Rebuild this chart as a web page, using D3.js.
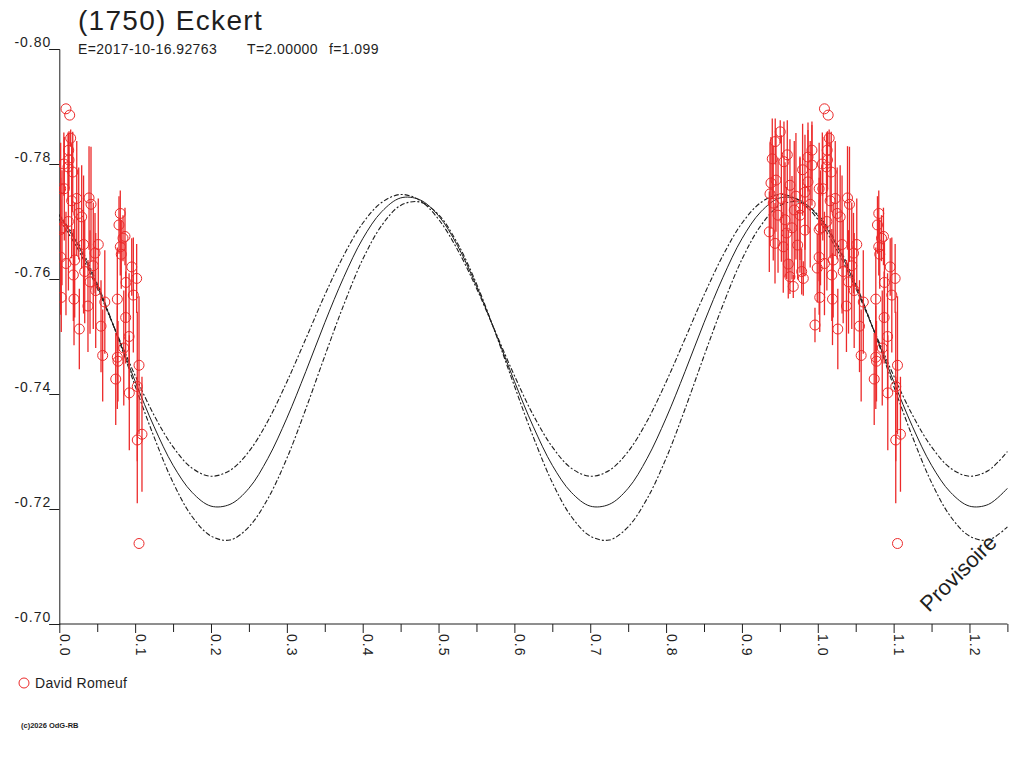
<!DOCTYPE html>
<html><head><meta charset="utf-8">
<script src="https://cdn.jsdelivr.net/npm/d3@7"></script>
<style>
html,body{margin:0;padding:0;background:#fff;}
svg{display:block;font-family:"Liberation Sans",Arial,sans-serif;}
</style></head>
<body>
<script>
// ---- data ----
const title = "(1750) Eckert";
const subtitleParts = ["E=2017-10-16.92763", "T=2.00000", "f=1.099"];
const observer = "David Romeuf";
const copyright = "(c)2026 OdG-RB";
const watermark = "Provisoire";

const yTicks = [-0.80, -0.78, -0.76, -0.74, -0.72, -0.70];
const xMajorTicks = [0.0,0.1,0.2,0.3,0.4,0.5,0.6,0.7,0.8,0.9,1.0,1.1,1.2];
const xMinorTicks = [0.05,0.15,0.25,0.35,0.45,0.55,0.65,0.75,0.85,0.95,1.05,1.15,1.25];

// observations: phase, magnitude, error
const obsPhase = [0.0088,0.0137,0.0150,0.0124,0.0128,0.0115,0.0177,0.0018,0.0066,0.0163,
 0.0018,0.0036,0.0392,0.0418,0.0256,0.0295,0.0514,0.0471,0.0804,0.0787,
 0.0866,0.0840,0.0804,0.0817,0.0955,0.1020,0.0879,0.0018,0.0088,0.0203,
 0.0185,0.0335,0.0448,0.0405,0.0026,0.0194,0.0264,0.0550,0.0572,0.0765,
 0.0976,0.0875,0.0765,0.0774,0.0744,0.0923,0.1051,0.1028,0.1090,0.1028,
 0.1051,0.0378,0.0060,0.0230,0.0320,0.0120,0.0480,0.0600,0.0850,0.0920,
 0.9505,0.9439,0.9598,0.9554,0.9400,0.9383,0.9370,0.9413,0.9361,0.9436,
 0.9545,0.9611,0.9633,0.9677,0.9788,0.9809,0.9735,0.9871,0.9993,0.9871,
 0.9923,0.9923,0.9765,0.9765,0.9660,0.9568,0.9476,0.9712,0.9831,0.9963,
 0.9449,0.9831,0.9633,0.9520,0.9690,0.9900,0.9590,0.9800];
const obsMag = [-0.7896,-0.7885,-0.7845,-0.7824,-0.7807,-0.7795,-0.7786,-0.7757,-0.7757,-0.7736,
 -0.7686,-0.7689,-0.7741,-0.7730,-0.7714,-0.7708,-0.7660,-0.7645,-0.7714,-0.7694,
 -0.7674,-0.7671,-0.7656,-0.7643,-0.7621,-0.7601,-0.7594,-0.7638,-0.7627,-0.7633,
 -0.7607,-0.7613,-0.7623,-0.7595,-0.7568,-0.7565,-0.7513,-0.7518,-0.7467,-0.7565,
 -0.7572,-0.7533,-0.7464,-0.7457,-0.7426,-0.7402,-0.7450,-0.7413,-0.7330,-0.7320,
 -0.7140,-0.7553,-0.7800,-0.7740,-0.7660,-0.7700,-0.7580,-0.7560,-0.7480,-0.7500,
 -0.7856,-0.7839,-0.7816,-0.7804,-0.7809,-0.7767,-0.7748,-0.7732,-0.7682,-0.7662,
 -0.7656,-0.7626,-0.7604,-0.7587,-0.7613,-0.7601,-0.7659,-0.7769,-0.7619,-0.7812,
 -0.7824,-0.7798,-0.7723,-0.7711,-0.7689,-0.7703,-0.7711,-0.7744,-0.7685,-0.7520,
 -0.7772,-0.7751,-0.7763,-0.7740,-0.7720,-0.7730,-0.7680,-0.7790];
const obsErr = [0.000,0.000,0.0015,0.003,0.005,0.006,0.007,0.008,0.009,0.010,
 0.009,0.010,0.009,0.010,0.008,0.009,0.008,0.007,0.004,0.005,
 0.005,0.004,0.005,0.006,0.005,0.006,0.007,0.010,0.009,0.010,
 0.008,0.009,0.011,0.009,0.006,0.008,0.007,0.008,0.008,0.009,
 0.010,0.008,0.009,0.007,0.008,0.010,0.012,0.013,0.010,0.011,
 0.000,0.008,0.0055,0.010,0.012,0.012,0.010,0.009,0.010,0.011,
 0.002,0.004,0.006,0.007,0.007,0.008,0.009,0.010,0.007,0.007,
 0.008,0.006,0.003,0.002,0.004,0.003,0.006,0.009,0.006,0.006,
 0.005,0.007,0.009,0.010,0.009,0.010,0.010,0.011,0.008,0.003,
 0.009,0.010,0.008,0.011,0.012,0.011,0.008,0.008];

// fitted light curve and its envelopes, sampled every 0.025 in phase from 0 to 1.25
const curveStep = 0.025;
const fitMid = [-0.7710,-0.7658,-0.7588,-0.7507,-0.7422,-0.7343,-0.7276,-0.7229,-0.7205,-0.7208,
 -0.7236,-0.7288,-0.7358,-0.7439,-0.7524,-0.7603,-0.7670,-0.7717,-0.7741,-0.7738,
 -0.7710,-0.7658,-0.7588,-0.7507,-0.7422,-0.7343,-0.7276,-0.7229,-0.7205,-0.7208,
 -0.7236,-0.7288,-0.7358,-0.7439,-0.7524,-0.7603,-0.7670,-0.7717,-0.7741,-0.7738,
 -0.7710,-0.7658,-0.7588,-0.7507,-0.7422,-0.7343,-0.7276,-0.7229,-0.7205,-0.7208,-0.7236];
const fitHigh = [-0.7704,-0.7651,-0.7584,-0.7508,-0.7432,-0.7363,-0.7308,-0.7271,-0.7257,-0.7267,
 -0.7300,-0.7353,-0.7421,-0.7496,-0.7572,-0.7641,-0.7697,-0.7733,-0.7747,-0.7737,
 -0.7704,-0.7651,-0.7584,-0.7508,-0.7432,-0.7363,-0.7308,-0.7271,-0.7257,-0.7267,
 -0.7300,-0.7353,-0.7421,-0.7496,-0.7572,-0.7641,-0.7697,-0.7733,-0.7747,-0.7737,
 -0.7704,-0.7651,-0.7584,-0.7508,-0.7432,-0.7363,-0.7308,-0.7271,-0.7257,-0.7267,-0.7300];
const fitLow = [-0.7712,-0.7662,-0.7592,-0.7506,-0.7414,-0.7325,-0.7246,-0.7187,-0.7153,-0.7146,
 -0.7169,-0.7218,-0.7288,-0.7374,-0.7466,-0.7555,-0.7634,-0.7693,-0.7728,-0.7734,
 -0.7712,-0.7662,-0.7592,-0.7506,-0.7414,-0.7325,-0.7246,-0.7187,-0.7153,-0.7146,
 -0.7169,-0.7218,-0.7288,-0.7374,-0.7466,-0.7555,-0.7634,-0.7693,-0.7728,-0.7734,
 -0.7712,-0.7662,-0.7592,-0.7506,-0.7414,-0.7325,-0.7246,-0.7187,-0.7153,-0.7146,-0.7169];

// ---- drawing ----
const W = 1024, H = 768;
const ink = "#1e1e1e", red = "#ec2a2a";
const svg = d3.select("body").append("svg").attr("width", W).attr("height", H);

const x = d3.scaleLinear().domain([0, 1.25]).range([59.3, 1007.4]);
const y = d3.scaleLinear().domain([-0.80, -0.70]).range([49, 624]);

svg.append("defs").append("clipPath").attr("id","plot")
  .append("rect").attr("x", 59).attr("y", 40).attr("width", 950).attr("height", 585);

// title & subtitle
svg.append("text").attr("x", 78).attr("y", 30).attr("font-size", 28).attr("letter-spacing", 1.3)
  .attr("fill", ink).text(title);
const subX = [78, 247, 329];
subtitleParts.forEach((s,i) => svg.append("text").attr("x", subX[i]).attr("y", 54)
  .attr("font-size", 14).attr("letter-spacing", 0.4).attr("fill", ink).text(s));

// axes
const yAxis = d3.axisLeft(y).tickValues(yTicks).tickSize(10).tickFormat(d3.format(".2f"));
const gy = svg.append("g").attr("transform", "translate(59.3,0)").call(yAxis);
gy.select(".domain").attr("stroke", ink);
gy.selectAll(".tick line").attr("stroke", ink);
gy.selectAll(".tick text").attr("x", -8).attr("dy", "-0.2em")
  .attr("font-size", 14).attr("letter-spacing", 1).attr("fill", ink)
  .attr("font-family", "Liberation Sans, Arial, sans-serif");
gy.selectAll(".tick text").text(d => d3.format(".2f")(d).replace("−","-"));

const xAxisMajor = d3.axisBottom(x).tickValues(xMajorTicks).tickSize(9).tickFormat(d3.format(".1f"));
const gx = svg.append("g").attr("transform", "translate(0,624)").call(xAxisMajor);
gx.select(".domain").attr("stroke", ink).attr("d", `M${x(0)},0H${x(1.25)}`);
gx.selectAll(".tick line").attr("stroke", ink);
gx.selectAll(".tick text").attr("font-size", 14).attr("letter-spacing", 1).attr("fill", ink)
  .attr("font-family", "Liberation Sans, Arial, sans-serif")
  .attr("text-anchor", "start").attr("dy", null).attr("y", null)
  .attr("transform", "translate(0,10) rotate(90)");
const xAxisMinor = d3.axisBottom(x).tickValues(xMinorTicks).tickSize(8).tickFormat("");
const gx2 = svg.append("g").attr("transform", "translate(0,624)").call(xAxisMinor);
gx2.select(".domain").remove();
gx2.selectAll(".tick line").attr("stroke", ink);

// curves
const plot = svg.append("g").attr("clip-path", "url(#plot)");
const line = d3.line().x((d,i) => x(i*curveStep)).y(d => y(d)).curve(d3.curveCatmullRom.alpha(0.5));
plot.append("path").datum(fitHigh).attr("d", line).attr("fill","none").attr("stroke", ink)
  .attr("stroke-width", 1.1).attr("stroke-dasharray", "5,2,2,2");
plot.append("path").datum(fitLow).attr("d", line).attr("fill","none").attr("stroke", ink)
  .attr("stroke-width", 1.1).attr("stroke-dasharray", "5,2,2,2");
plot.append("path").datum(fitMid).attr("d", line).attr("fill","none").attr("stroke", ink)
  .attr("stroke-width", 1);

// observations (repeated at phase+1 when inside the plotted range)
const obs = [];
obsPhase.forEach((p,i) => {
  obs.push({p: p, m: obsMag[i], e: obsErr[i]});
  if (p + 1 <= 1.25) obs.push({p: p + 1, m: obsMag[i], e: obsErr[i]});
});
plot.selectAll("line.err").data(obs.filter(d => d.e > 0)).join("line").attr("class","err")
  .attr("x1", d => x(d.p)).attr("x2", d => x(d.p))
  .attr("y1", d => y(d.m - d.e)).attr("y2", d => y(d.m + d.e))
  .attr("stroke", red).attr("stroke-width", 1.3);
plot.selectAll("circle.obs").data(obs).join("circle").attr("class","obs")
  .attr("cx", d => x(d.p)).attr("cy", d => y(d.m)).attr("r", 5)
  .attr("fill", "none").attr("stroke", red).attr("stroke-width", 1);

// watermark
svg.append("text").attr("transform", "translate(929,613) rotate(-45)")
  .attr("font-size", 22).attr("fill", ink).text(watermark);

// legend
svg.append("circle").attr("cx", 24).attr("cy", 683).attr("r", 5)
  .attr("fill","none").attr("stroke", red).attr("stroke-width", 1);
svg.append("text").attr("x", 35).attr("y", 688).attr("font-size", 14).attr("letter-spacing", 0.3)
  .attr("fill", ink).text(observer);
svg.append("text").attr("x", 21).attr("y", 728).attr("font-size", 7.5).attr("font-weight", "bold")
  .attr("fill", ink).text(copyright);
</script>
</body></html>
